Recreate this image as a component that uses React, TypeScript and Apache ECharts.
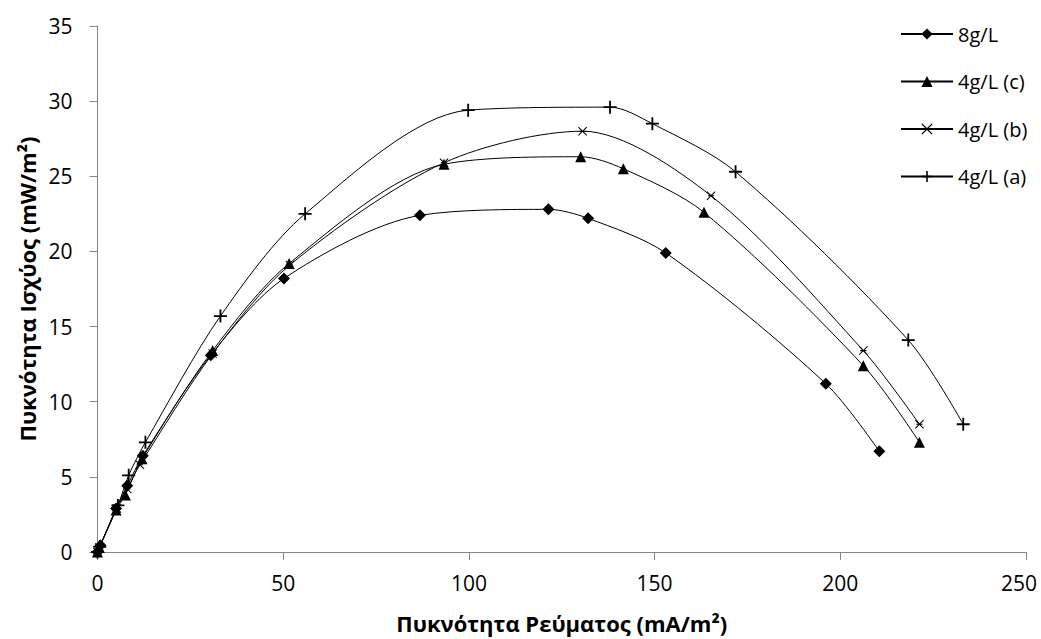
import React, { useEffect, useRef } from "react";
import * as echarts from "echarts";

const seriesNames = ["8g/L", "4g/L (c)", "4g/L (b)", "4g/L (a)"];

const s8: number[][] = [
  [0, 0], [0.8, 0.45], [5, 2.9], [8, 4.4], [12.2, 6.4], [30.5, 13.1], [50.2, 18.2],
  [86.8, 22.4], [121.4, 22.8], [132.1, 22.2], [153, 19.9], [196.1, 11.2], [210.5, 6.7],
];
const s4c: number[][] = [
  [0, 0], [0.5, 0.3], [5, 2.8], [7.5, 3.8], [12, 6.2], [31, 13.4], [51.6, 19.2],
  [93.3, 25.8], [130.1, 26.3], [141.6, 25.5], [163.3, 22.6], [206.2, 12.4], [221.3, 7.3],
];
const s4b: number[][] = [
  [0, 0], [0.5, 0.3], [5.2, 2.9], [8, 4.2], [11.4, 5.8], [31, 13.2], [51.8, 19.1],
  [93.3, 25.9], [130.6, 28.0], [165.2, 23.7], [206.2, 13.4], [221.3, 8.5],
];
const s4a: number[][] = [
  [0, 0], [0.6, 0.35], [5.5, 3.1], [8.4, 5.1], [12.9, 7.3], [33.1, 15.7], [55.9, 22.5],
  [99.8, 29.4], [138, 29.6], [149.4, 28.5], [171.8, 25.3], [218.3, 14.1], [233.1, 8.5],
];

const xTitle = "Πυκνότητα Ρεύματος (mA/m²)";
const yTitle = "Πυκνότητα Ισχύος (mW/m²)";

const PLUS = "path://M4.3,0h1.4v10h-1.4z M0,4.3h10v1.4h-10z";
const STAR =
  "path://M0.8,0L5,4.2L9.2,0L10,0.8L5.8,5L10,9.2L9.2,10L5,5.8L0.8,10L0,9.2L4.2,5L0,0.8z M1.5,4.4h7v1.2h-7z";

const FONT = "'Open Sans', 'Noto Sans', sans-serif";

export default function App() {
  const ref = useRef<HTMLDivElement>(null);
  useEffect(() => {
    if (!ref.current) return;
    const chart = echarts.init(ref.current, undefined, { renderer: "svg" });
    const mk = (name: string, data: number[][], symbol: string, size: number) => ({
      name,
      type: "line",
      data,
      smooth: 0.3,
      symbol,
      symbolSize: size,
      showSymbol: true,
      lineStyle: { color: "#000", width: 1 },
      itemStyle: { color: "#000", borderWidth: 0 },
      emphasis: { disabled: true },
    });
    chart.setOption({
      animation: false,
      backgroundColor: "#fff",
      textStyle: { fontFamily: FONT },
      grid: { left: 97.5, right: 15, top: 26, bottom: 87, containLabel: false },
      legend: {
        orient: "vertical",
        left: 895,
        top: 19,
        itemWidth: 52,
        itemHeight: 14,
        itemGap: 27.5,
        textStyle: { fontSize: 20, color: "#000", fontFamily: FONT },
        data: seriesNames,
      },
      xAxis: {
        type: "value",
        min: 0,
        max: 250,
        interval: 50,
        name: xTitle,
        nameLocation: "middle",
        nameGap: 60,
        nameTextStyle: { fontSize: 22, fontWeight: "bold", color: "#000", fontFamily: FONT },
        axisLine: { lineStyle: { color: "#868686", width: 1 } },
        axisTick: { show: true, length: 8, lineStyle: { color: "#868686" } },
        axisLabel: {
          fontSize: 21,
          color: "#000",
          margin: 20,
          fontFamily: FONT,
          formatter: (v: number) => (v === 250 ? "{r|" + v + "}" : String(v)),
          rich: { r: { fontSize: 21, color: "#000", fontFamily: FONT, padding: [0, 14, 0, 0] } },
        },
        splitLine: { show: false },
      },
      yAxis: {
        type: "value",
        min: 0,
        max: 35,
        interval: 5,
        name: yTitle,
        nameLocation: "middle",
        nameGap: 58,
        nameRotate: 90,
        nameTextStyle: { fontSize: 22, fontWeight: "bold", color: "#000", fontFamily: FONT },
        axisLine: { show: true, lineStyle: { color: "#868686", width: 1 } },
        axisTick: { show: true, length: 8, lineStyle: { color: "#868686" } },
        axisLabel: { fontSize: 21, color: "#000", margin: 25, fontFamily: FONT },
        splitLine: { show: false },
      },
      series: [
        mk(seriesNames[0], s8, "diamond", 12),
        mk(seriesNames[1], s4c, "triangle", 11),
        mk(seriesNames[2], s4b, STAR, 9),
        mk(seriesNames[3], s4a, PLUS, 13),
      ],
    });
    return () => chart.dispose();
  }, []);
  return (
    <div
      ref={ref}
      style={{ position: "fixed", left: 0, top: 0, width: 1041, height: 639 }}
    />
  );
}
